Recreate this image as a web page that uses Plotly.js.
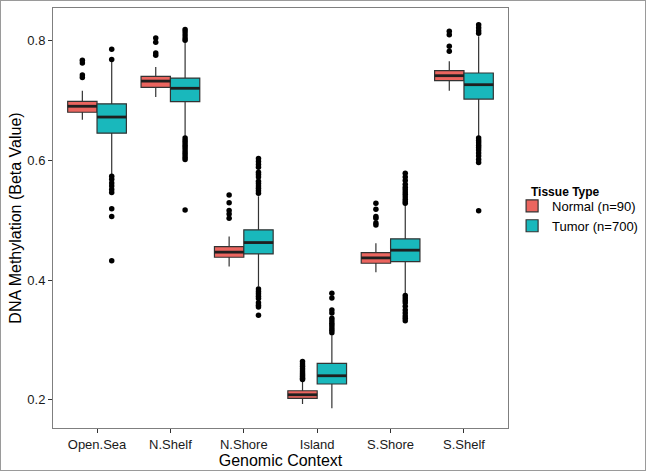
<!DOCTYPE html>
<html>
<head>
<meta charset="utf-8">
<script src="https://cdn.plot.ly/plotly-3.0.1.min.js"></script>
<style>
  html, body { margin: 0; padding: 0; background: #fff; }
  #wrap { position: relative; width: 648px; height: 474px; }
  #chart { position: absolute; left: 0; top: 0; width: 648px; height: 474px; }
  #frame { position: absolute; left: 0; top: 0; width: 644px; height: 469px; border: 1px solid #9a9a9a; pointer-events: none; }
</style>
</head>
<body>
<div id="wrap"><div id="chart"></div><div id="frame"></div></div>
<script>
// ---- Data ----
const categories = ['Open.Sea', 'N.Shelf', 'N.Shore', 'Island', 'S.Shore', 'S.Shelf'];

const normalLower  = [0.6675, 0.7054, 0.4224, 0.1930, 0.4130, 0.7160];
const normalQ1     = [0.6800, 0.7215, 0.4380, 0.2025, 0.4280, 0.7327];
const normalMedian = [0.6900, 0.7320, 0.4465, 0.2085, 0.4369, 0.7410];
const normalQ3     = [0.6980, 0.7400, 0.4558, 0.2152, 0.4458, 0.7494];
const normalUpper  = [0.7160, 0.7555, 0.4725, 0.2318, 0.4615, 0.7650];

const tumorLower  = [0.5750, 0.6400, 0.3890, 0.1858, 0.3780, 0.6400];
const tumorQ1     = [0.6450, 0.6976, 0.4436, 0.2264, 0.4307, 0.7020];
const tumorMedian = [0.6720, 0.7200, 0.4625, 0.2402, 0.4498, 0.7260];
const tumorQ3     = [0.6940, 0.7370, 0.4837, 0.2610, 0.4687, 0.7455];
const tumorUpper  = [0.7640, 0.7970, 0.5400, 0.3080, 0.5250, 0.8067];

const normalOutliers = [
  [0.767, 0.762, 0.742, 0.738],
  [0.804, 0.797, 0.779, 0.775],
  [0.542, 0.529, 0.516, 0.510, 0.503],
  [0.264, 0.260, 0.256, 0.252, 0.248, 0.245, 0.242, 0.239, 0.236, 0.234],
  [0.528, 0.518, 0.506, 0.503, 0.495, 0.492],
  [0.815, 0.8095, 0.790, 0.782]
];
const tumorOutliers = [
  [0.785, 0.768, 0.573, 0.568, 0.562, 0.557, 0.551, 0.546, 0.519, 0.506, 0.432],
  [0.818, 0.814, 0.809, 0.804, 0.800, 0.637, 0.633, 0.629, 0.625, 0.621, 0.617, 0.613, 0.609, 0.605, 0.601, 0.517],
  [0.603, 0.598, 0.593, 0.588, 0.580, 0.576, 0.572, 0.565, 0.561, 0.557, 0.553, 0.549, 0.545,
   0.385, 0.381, 0.377, 0.373, 0.369, 0.362, 0.358, 0.355, 0.341],
  [0.378, 0.370, 0.350, 0.345, 0.336, 0.332, 0.328, 0.324, 0.320, 0.316, 0.312],
  [0.578, 0.572, 0.566, 0.560, 0.555, 0.551, 0.547, 0.543, 0.539, 0.535, 0.531, 0.528,
   0.374, 0.370, 0.366, 0.362, 0.356, 0.350, 0.345, 0.340, 0.336, 0.332],
  [0.826, 0.821, 0.816, 0.812, 0.637, 0.633, 0.629, 0.625, 0.621, 0.617, 0.612, 0.607, 0.601, 0.596, 0.5155]
];

const legendTitle = 'Tissue Type';
const groupNames = ['Normal (n=90)', 'Tumor (n=700)'];
const groupColors = ['#EB655F', '#19B8BC'];

// ---- Build traces ----
const idx = categories.map((c, i) => i);
const shift = [-0.2, 0.2];
const boxW = 0.4;
const stats = [
  [normalLower, normalQ1, normalMedian, normalQ3, normalUpper, normalOutliers],
  [tumorLower, tumorQ1, tumorMedian, tumorQ3, tumorUpper, tumorOutliers]
];

const traces = [];
stats.forEach((s, g) => {
  const xs = idx.map(i => i + shift[g]);
  traces.push({
    type: 'box',
    name: groupNames[g],
    x: xs,
    lowerfence: s[0], q1: s[1], median: s[2], q3: s[3], upperfence: s[4],
    width: boxW,
    whiskerwidth: 0,
    fillcolor: groupColors[g],
    line: { color: '#333333', width: 1.2 },
    boxpoints: false,
    hoverinfo: 'skip'
  });
});
stats.forEach((s, g) => {
  // thick median bars
  const mx = [], my = [];
  idx.forEach(i => {
    mx.push(i + shift[g] - boxW / 2, i + shift[g] + boxW / 2, null);
    my.push(s[2][i], s[2][i], null);
  });
  traces.push({ type: 'scatter', mode: 'lines', x: mx, y: my, showlegend: false,
    line: { color: '#1f1f1f', width: 2.8 }, hoverinfo: 'skip' });
  // outliers
  const ox = [], oy = [];
  idx.forEach(i => s[5][i].forEach(v => { ox.push(i + shift[g]); oy.push(v); }));
  traces.push({ type: 'scatter', mode: 'markers', x: ox, y: oy, showlegend: false,
    marker: { color: '#000', size: 5.5 }, hoverinfo: 'skip' });
});

const fontFam = 'Liberation Sans, Arial, Helvetica, sans-serif';
const layout = {
  width: 648, height: 474,
  margin: { l: 53, r: 140, t: 8, b: 46, autoexpand: false },
  paper_bgcolor: '#fff', plot_bgcolor: '#fff',
  font: { family: fontFam, color: '#1a1a1a', size: 13 },
  showlegend: true,
  boxmode: 'overlay',
  xaxis: {
    range: [-0.6, 5.6],
    tickmode: 'array', tickvals: idx, ticktext: categories,
    showgrid: false, zeroline: false,
    showline: true, mirror: true, linecolor: '#7f7f7f', linewidth: 1,
    ticks: 'outside', ticklen: 4, tickcolor: '#333', tickwidth: 1,
    tickfont: { size: 13, color: '#1a1a1a' },
    title: { text: 'Genomic Context', font: { size: 16, color: '#000' }, standoff: 2 }
  },
  yaxis: {
    range: [0.153, 0.854],
    tickvals: [0.2, 0.4, 0.6, 0.8], ticktext: ['0.2', '0.4', '0.6', '0.8'],
    showgrid: false, zeroline: false,
    showline: true, mirror: true, linecolor: '#7f7f7f', linewidth: 1,
    ticks: 'outside', ticklen: 4, tickcolor: '#333', tickwidth: 1,
    tickfont: { size: 13, color: '#1a1a1a' },
    title: { text: 'DNA Methylation (Beta Value)', font: { size: 16, color: '#000' }, standoff: 1 }
  },
  legend: {
    x: 1.009, xanchor: 'left', y: 0.505, yanchor: 'middle',
    font: { size: 13, color: '#000' },
    itemwidth: 30, tracegroupgap: 0,
    bgcolor: 'rgba(0,0,0,0)'
  },
  annotations: [{
    xref: 'paper', yref: 'paper', x: 1.046, y: 0.562, xanchor: 'left', yanchor: 'middle',
    text: '<b>' + legendTitle + '</b>', showarrow: false,
    font: { size: 12, color: '#000' }
  }]
};

Plotly.newPlot('chart', traces, layout, { displayModeBar: false, staticPlot: true });
</script>
</body>
</html>
